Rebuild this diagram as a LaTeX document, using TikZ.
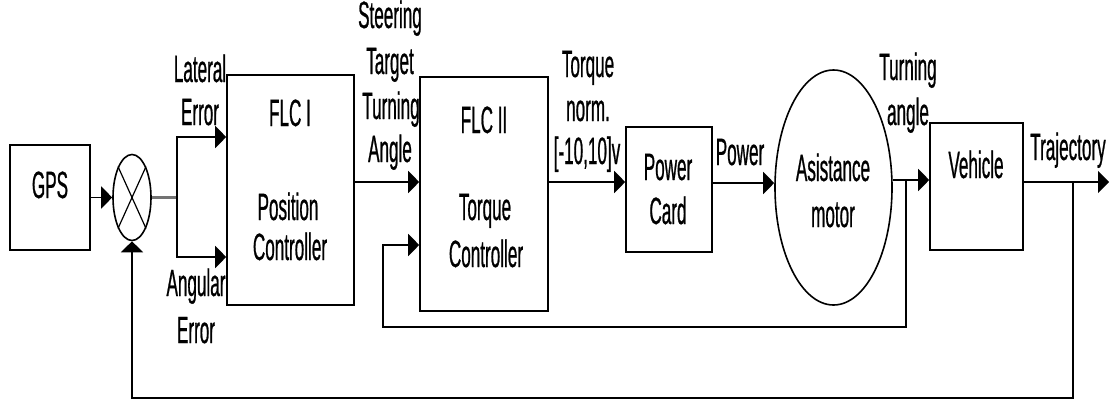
\documentclass[tikz,border=0pt]{standalone}
\usepackage{fontspec}
\setmainfont[FakeStretch=0.45,FakeBold=0.6]{Liberation Sans}
\usetikzlibrary{shapes.geometric,arrows.meta}
\begin{document}
\begin{tikzpicture}[x=1pt,y=-1pt,
  blk/.style={draw,line width=1.6pt,inner sep=0pt,rectangle},
  ell/.style={draw,line width=1.6pt,inner sep=0pt,ellipse},
  lbl/.style={anchor=base,inner sep=0pt,font=\fontsize{38}{42}\selectfont},
  arr/.style={line width=1.8pt,-{Triangle[length=11pt,width=22pt]}},
  ln/.style={line width=2.6pt,draw=black!55}]
\useasboundingbox (0,0) rectangle (1110,407);

% blocks
\node[blk,minimum width=80pt,minimum height=105pt] (gps) at (50,197.5) {};
\node[ell,minimum width=38pt,minimum height=86pt] (sum) at (132,197.5) {};
\draw[line width=1.2pt] (sum.north east) -- (sum.south west) (sum.north west) -- (sum.south east);
\node[blk,minimum width=127pt,minimum height=230pt] (flc1) at (290.5,190) {};
\node[blk,minimum width=128pt,minimum height=234pt] (flc2) at (484,194) {};
\node[blk,minimum width=86pt,minimum height=125pt] (card) at (669,189.5) {};
\node[ell,minimum width=117pt,minimum height=235pt] (motor) at (833.5,187.5) {};
\node[blk,minimum width=93pt,minimum height=127pt] (veh) at (976.5,186.5) {};

% texts in blocks
\node[lbl] (tgps) at (50,198) {GPS};
\node[lbl] (tf1a) at (290,126) {FLC I};
\node[lbl] (tf1b) at (288,220) {Position};
\node[lbl] (tf1c) at (290,260) {Controller};
\node[lbl] (tf2a) at (484,133) {FLC II};
\node[lbl] (tf2b) at (485,220) {Torque};
\node[lbl] (tf2c) at (486,267) {Controller};
\node[lbl] (tca) at (668,180) {Power};
\node[lbl] (tcb) at (668,224) {Card};
\node[lbl] (tma) at (833,181) {Asistance};
\node[lbl] (tmb) at (833,227) {motor};
\node[lbl] (tveh) at (976,178) {Vehicle};

% signal labels
\node[lbl] (llat) at (200,82) {Lateral};
\node[lbl] (lerr1) at (200,125) {Error};
\node[lbl] (lang) at (196,296) {Angular};
\node[lbl] (lerr2) at (196,343) {Error};
\node[lbl] (ls1) at (390,28) {Steering};
\node[lbl] (ls2) at (390,74) {Target};
\node[lbl] (ls3) at (391,119) {Turning};
\node[lbl] (ls4) at (390,162) {Angle};
\node[lbl] (lt1) at (588,77) {Torque};
\node[lbl] (lt2) at (588,121) {norm.};
\node[lbl] (lt3) at (587,164) {[-10,10]v};
\node[lbl] (lpow) at (740,165) {Power};
\node[lbl] (lta) at (908,80) {Turning};
\node[lbl] (ltb) at (908,125) {angle};
\node[lbl] (ltraj) at (1068,160) {Trajectory};

% connectors
\draw[arr] (gps) -- (sum);
\coordinate (br) at (177,197.5);
\draw[ln] (sum) -- (br);
\draw[arr] (br) |- ([yshift=53pt]flc1.west);
\draw[arr] (br) |- ([yshift=-67pt]flc1.west);
\draw[arr] ([yshift=8pt]flc1.east) -- ([yshift=8pt]flc1.east -| flc2.west);
\draw[arr] ([yshift=12pt]flc2.east) -- ([yshift=12pt]flc2.east -| card.west);
\draw[arr] ([yshift=6.5pt]card.east) -- ([yshift=6.5pt]card.east -| motor.west);
\draw[arr] ([yshift=7.5pt]motor.east) -- ([yshift=7.5pt]motor.east -| veh.west);
\coordinate (out) at (1109,182);
\draw[arr] ([yshift=4.5pt]veh.east) -- (out);

% inner feedback
\coordinate (ifa) at (906,180);
\coordinate (ifb) at (383,327);
\draw[arr] (ifa) |- (ifb) |- ([yshift=-51pt]flc2.west);

% outer feedback
\coordinate (ofa) at (1073,182);
\coordinate (ofb) at (132,398);
\draw[arr] (ofa) |- (ofb) -- (sum.south);
\end{tikzpicture}
\end{document}
